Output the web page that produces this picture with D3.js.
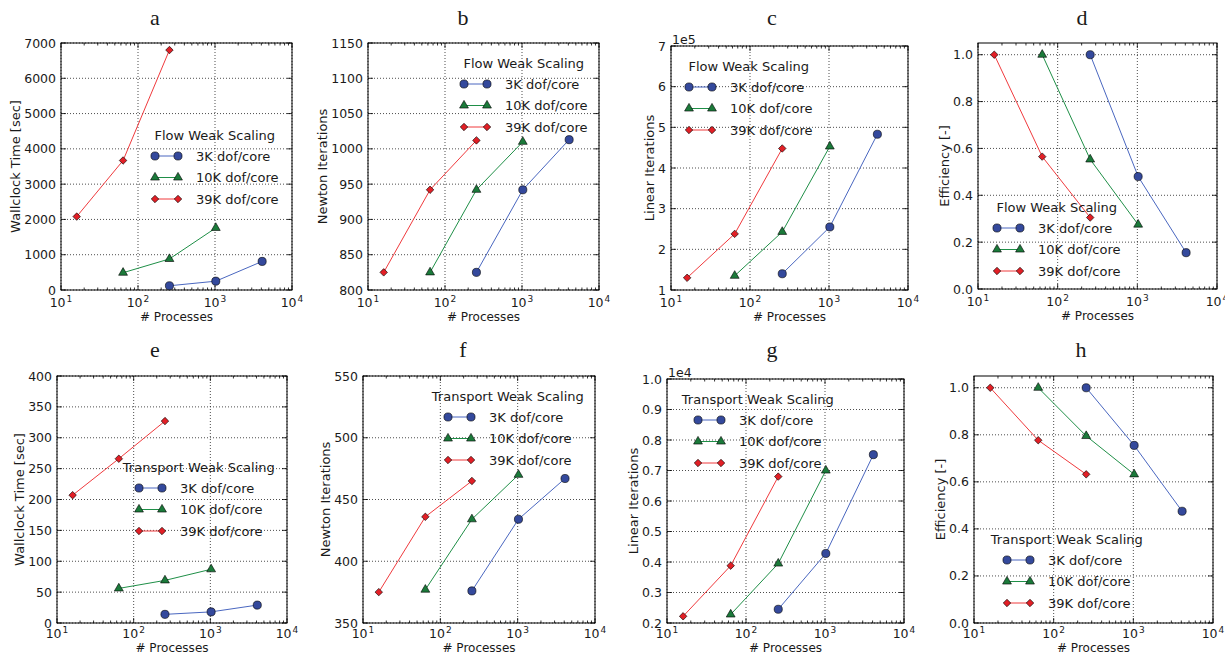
<!DOCTYPE html>
<html>
<head>
<meta charset="utf-8">
<script src="https://cdn.jsdelivr.net/npm/d3@7"></script>
<style>
  body { margin: 0; background: #fff; }
  svg { display: block; }
  text { font-family: "DejaVu Sans", sans-serif; fill: #1a1a1a; }
</style>
</head>
<body>
<svg id="chart" width="1225" height="654"></svg>
<script>
const seriesLabels = ['3K dof/core', '10K dof/core', '39K dof/core']
const procs3K = [256, 1024, 4096]
const procs10K = [64, 256, 1024]
const procs39K = [16, 64, 256]
const xTicks = [10, 100, 1000, 10000]

// each array is ordered 3K, 10K, 39K
const flowWallclock = [[120, 250, 810], [490, 880, 1760], [2080, 3670, 6800]]
const flowNewton = [[825, 942, 1013], [825, 942, 1010], [825, 942, 1012]]
const flowLinear = [[140000, 255000, 483000], [135000, 243000, 453000], [130000, 238000, 448000]]
const flowEfficiency = [[1.0, 0.48, 0.155], [1.0, 0.553, 0.275], [1.0, 0.565, 0.305]]
const transportWallclock = [[14, 18, 29], [56, 69, 87], [207, 266, 327]]
const transportNewton = [[376, 434, 467], [377, 434, 470], [375, 436, 465]]
const transportLinear = [[2450, 4280, 7520], [2280, 3950, 7000], [2220, 3880, 6800]]
const transportEfficiency = [[1.0, 0.755, 0.475], [1.0, 0.795, 0.632], [1.0, 0.777, 0.632]]

const yTicksFlowWall = [0, 1000, 2000, 3000, 4000, 5000, 6000, 7000]
const yTicksFlowNewton = [800, 850, 900, 950, 1000, 1050, 1100, 1150]
const yTicksFlowLinear = [100000, 200000, 300000, 400000, 500000, 600000, 700000]
const yTicksEfficiency = [0, 0.2, 0.4, 0.6, 0.8, 1.0]
const yTicksTransportWall = [0, 50, 100, 150, 200, 250, 300, 350, 400]
const yTicksTransportNewton = [350, 400, 450, 500, 550]
const yTicksTransportLinear = [2000, 3000, 4000, 5000, 6000, 7000, 8000, 9000, 10000]

const legendTitles = ['Flow Weak Scaling', 'Transport Weak Scaling']
const yLabels = ['Wallclock Time [sec]', 'Newton Iterations', 'Linear Iterations', 'Efficiency [-]']

const panels = [
  { letter: 'a', values: flowWallclock, yTicks: yTicksFlowWall, ylabel: yLabels[0], legendTitle: legendTitles[0],
    fmt: d => d, box: [61, 43, 292, 290], domain: [0, 7000], title: [155, 25], legend: [155, 135], xlab: [17, 31] },
  { letter: 'b', values: flowNewton, yTicks: yTicksFlowNewton, ylabel: yLabels[1], legendTitle: legendTitles[0],
    fmt: d => d, box: [368, 43, 599, 290], domain: [800, 1150], title: [463, 25], legend: [464, 63], xlab: [17, 31] },
  { letter: 'c', values: flowLinear, yTicks: yTicksFlowLinear, ylabel: yLabels[2], legendTitle: legendTitles[0],
    fmt: d => d / 1e5, offset: '1e5', box: [671, 46, 908, 290], domain: [100000, 700000], title: [772, 25], legend: [689, 66], xlab: [17, 31] },
  { letter: 'd', values: flowEfficiency, yTicks: yTicksEfficiency, ylabel: yLabels[3], legendTitle: legendTitles[0],
    fmt: d3.format('.1f'), box: [978, 43, 1217, 289], domain: [0, 1.05], title: [1082, 25], legend: [997, 207], xlab: [17, 31] },
  { letter: 'e', values: transportWallclock, yTicks: yTicksTransportWall, ylabel: yLabels[0], legendTitle: legendTitles[1],
    fmt: d => d, box: [57, 376, 287, 623], domain: [0, 400], title: [155, 357], legend: [139, 467], xlab: [15, 29] },
  { letter: 'f', values: transportNewton, yTicks: yTicksTransportNewton, ylabel: yLabels[1], legendTitle: legendTitles[1],
    fmt: d => d, box: [363, 376, 595, 623], domain: [350, 550], title: [463, 357], legend: [448, 396], xlab: [15, 29] },
  { letter: 'g', values: transportLinear, yTicks: yTicksTransportLinear, ylabel: yLabels[2], legendTitle: legendTitles[1],
    fmt: d => d3.format('.1f')(d / 1e4), offset: '1e4', box: [667, 379, 904, 623], domain: [2000, 10000], title: [772, 357], legend: [698, 399], xlab: [15, 29] },
  { letter: 'h', values: transportEfficiency, yTicks: yTicksEfficiency, ylabel: yLabels[3], legendTitle: legendTitles[1],
    fmt: d3.format('.1f'), box: [974, 376, 1213, 623], domain: [0, 1.05], title: [1081, 357], legend: [1007, 539], xlab: [15, 29] },
]

const seriesProcs = [procs3K, procs10K, procs39K]
const fillColors = ['#34499c', '#1b7a3a', '#e21f26']
const lineColors = ['#4a67c0', '#1f8f47', '#f03a3d']
const symbols = [
  d3.symbol(d3.symbolCircle, 52),
  d3.symbol(d3.symbolTriangle, 34),
  d3.symbol(d3.symbolSquare, 28),
]
const symbolRotate = [0, 0, 45]

const svg = d3.select('#chart')

const minorTicks = []
;[10, 100, 1000].forEach(dec => {
  for (let k = 2; k <= 9; k++) minorTicks.push(dec * k)
})

const dotted = sel => sel
  .attr('stroke', '#000')
  .attr('stroke-width', 0.7)
  .attr('stroke-dasharray', '1,2')

const drawMarker = (sel, i) => sel
  .attr('d', symbols[i])
  .attr('fill', fillColors[i])
  .attr('stroke', '#000')
  .attr('stroke-width', 0.6)

const drawPanel = p => {
  const [l, t, r, b] = p.box
  const x = d3.scaleLog().domain([10, 10000]).range([l, r])
  const y = d3.scaleLinear().domain(p.domain).range([b, t])
  const g = svg.append('g')

  // grid
  g.selectAll(null).data(xTicks).enter().append('line')
    .attr('x1', d => x(d)).attr('x2', d => x(d))
    .attr('y1', t).attr('y2', b)
    .call(dotted)
  g.selectAll(null).data(p.yTicks).enter().append('line')
    .attr('x1', l).attr('x2', r)
    .attr('y1', d => y(d)).attr('y2', d => y(d))
    .call(dotted)

  // ticks, pointing inside on all four sides
  const tick = (x1, y1, x2, y2) => g.append('line')
    .attr('x1', x1).attr('y1', y1).attr('x2', x2).attr('y2', y2)
    .attr('stroke', '#000').attr('stroke-width', 0.8)
  xTicks.forEach(d => { tick(x(d), b, x(d), b - 5); tick(x(d), t, x(d), t + 5) })
  minorTicks.forEach(d => { tick(x(d), b, x(d), b - 2.5); tick(x(d), t, x(d), t + 2.5) })
  p.yTicks.forEach(d => { tick(l, y(d), l + 5, y(d)); tick(r, y(d), r - 5, y(d)) })

  g.append('rect')
    .attr('x', l).attr('y', t)
    .attr('width', r - l).attr('height', b - t)
    .attr('fill', 'none').attr('stroke', '#000').attr('stroke-width', 1)

  // x tick labels 10^n
  xTicks.forEach(d => {
    const txt = g.append('text')
      .attr('x', x(d)).attr('y', b + p.xlab[0])
      .attr('text-anchor', 'middle')
      .style('font-size', '12.5px')
    txt.append('tspan').text('10')
    txt.append('tspan').attr('dx', 1).attr('dy', -5).style('font-size', '9px').text(Math.round(Math.log10(d)))
  })

  // y tick labels
  let maxW = 0
  p.yTicks.forEach(d => {
    const txt = g.append('text')
      .attr('x', l - 5).attr('y', y(d))
      .attr('text-anchor', 'end')
      .attr('dominant-baseline', 'central')
      .style('font-size', '12.5px')
      .text(p.fmt(d))
    maxW = Math.max(maxW, txt.node().getComputedTextLength())
  })

  if (p.offset) {
    g.append('text')
      .attr('x', l + 1).attr('y', t - 2)
      .style('font-size', '12.5px')
      .text(p.offset)
  }

  // axis labels
  g.append('text')
    .attr('x', (l + r) / 2).attr('y', b + p.xlab[1])
    .attr('text-anchor', 'middle')
    .style('font-size', '12px')
    .text('# Processes')
  g.append('text')
    .attr('transform', `translate(${l - maxW - 9},${(t + b) / 2}) rotate(-90)`)
    .attr('text-anchor', 'middle')
    .style('font-size', '13px')
    .text(p.ylabel)

  // panel letter
  g.append('text')
    .attr('x', p.title[0]).attr('y', p.title[1])
    .attr('text-anchor', 'middle')
    .style('font-family', '"Liberation Serif", serif')
    .style('font-size', '22px')
    .text(p.letter)

  // series
  seriesProcs.forEach((procs, i) => {
    const pts = procs.map((v, j) => [v, p.values[i][j]])
    g.append('path')
      .datum(pts)
      .attr('d', d3.line().x(d => x(d[0])).y(d => y(d[1])))
      .attr('fill', 'none')
      .attr('stroke', lineColors[i])
      .attr('stroke-width', 1)
    g.selectAll(null).data(pts).enter().append('path')
      .attr('transform', d => `translate(${x(d[0])},${y(d[1])}) rotate(${symbolRotate[i]})`)
      .call(drawMarker, i)
  })

  // legend, no frame
  const [lx, ly] = p.legend
  let textW = 0
  seriesLabels.forEach((label, i) => {
    const ry = ly + 21 + 21.5 * i
    g.append('line')
      .attr('x1', lx).attr('x2', lx + 23)
      .attr('y1', ry).attr('y2', ry)
      .attr('stroke', lineColors[i]).attr('stroke-width', 1)
    ;[lx, lx + 23].forEach(mx => {
      g.append('path')
        .attr('transform', `translate(${mx},${ry}) rotate(${symbolRotate[i]})`)
        .call(drawMarker, i)
    })
    const txt = g.append('text')
      .attr('x', lx + 41).attr('y', ry)
      .attr('dominant-baseline', 'central')
      .style('font-size', '13px')
      .text(label)
    textW = Math.max(textW, txt.node().getComputedTextLength())
  })
  g.append('text')
    .attr('x', (lx - 4 + lx + 41 + textW) / 2).attr('y', ly)
    .attr('text-anchor', 'middle')
    .attr('dominant-baseline', 'central')
    .style('font-size', '13px')
    .text(p.legendTitle)
}

panels.forEach(drawPanel)
</script>
</body>
</html>
